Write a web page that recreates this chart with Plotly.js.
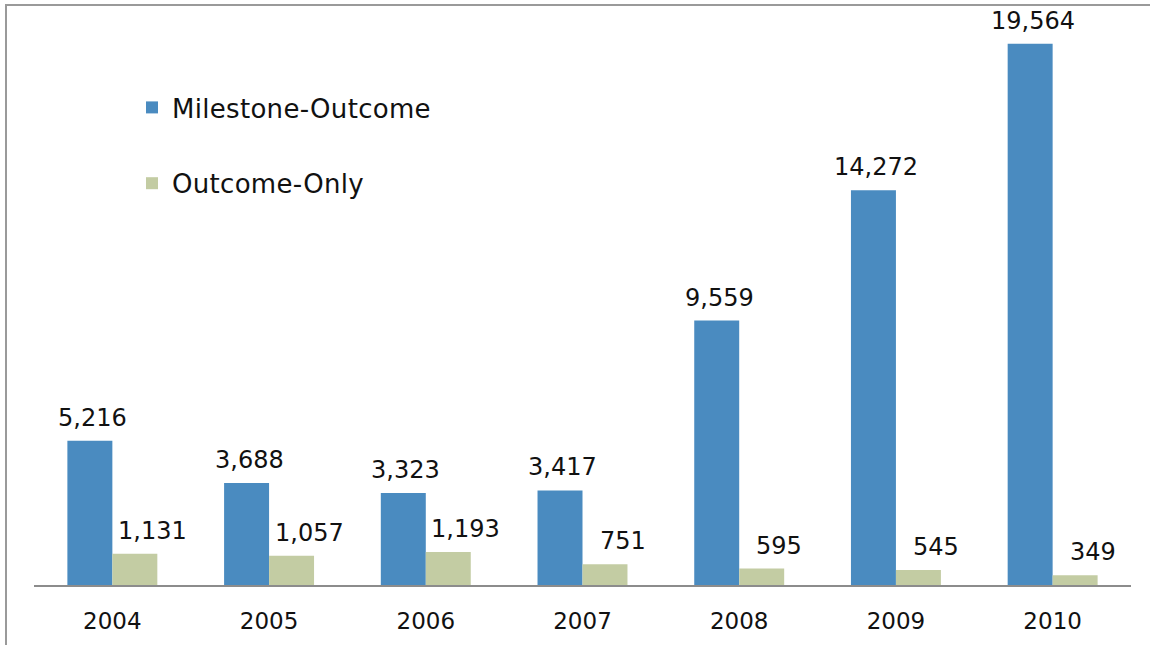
<!DOCTYPE html>
<html>
<head>
<meta charset="utf-8">
<script src="https://cdn.plot.ly/plotly-3.0.1.min.js"></script>
<style>
html,body{margin:0;padding:0;background:#fff;}
#chart{width:1150px;height:645px;}
.legendtext{letter-spacing:0.3px;}
</style>
</head>
<body>
<div id="chart"></div>
<script>
var years = ['2004', '2005', '2006', '2007', '2008', '2009', '2010'];
var milestoneOutcome = [5216, 3688, 3323, 3417, 9559, 14272, 19564];
var outcomeOnly = [1131, 1057, 1193, 751, 595, 545, 349];
var seriesNames = ['Milestone-Outcome', 'Outcome-Only'];

var FONT = 'DejaVu Sans, Verdana, sans-serif';
var fmt = function (v) { return v.toLocaleString('en-US'); };

var traces = [
  {
    type: 'bar', name: seriesNames[0], x: years, y: milestoneOutcome,
    marker: { color: '#4a8bc0' }, legendgroup: 'a', hoverinfo: 'x+y'
  },
  {
    type: 'bar', name: seriesNames[1], x: years, y: outcomeOnly,
    marker: { color: '#c3cca3' }, legendgroup: 'b', hoverinfo: 'x+y'
  }
];

var annotations = [];
years.forEach(function (yr, i) {
  annotations.push({
    x: i, y: milestoneOutcome[i], xref: 'x', yref: 'y', text: fmt(milestoneOutcome[i]),
    showarrow: false, xanchor: 'center', yanchor: 'bottom', xshift: -20, yshift: 7,
    font: { family: FONT, size: 24, color: '#111' }
  });
  annotations.push({
    x: i, y: outcomeOnly[i], xref: 'x', yref: 'y', text: fmt(outcomeOnly[i]),
    showarrow: false, xanchor: 'center', yanchor: 'bottom', xshift: 40, yshift: 7,
    font: { family: FONT, size: 24, color: '#111' }
  });
});

var L = 34, R = 19, T = 4, B = 60;
var pw = 1150 - L - R, ph = 645 - T - B;
var px2x = function (px) { return (px - L) / pw; };
var py2y = function (py) { return (645 - B - py) / ph; };

var layout = {
  width: 1150, height: 645,
  margin: { l: L, r: R, t: T, b: B },
  paper_bgcolor: '#ffffff', plot_bgcolor: '#ffffff',
  font: { family: FONT, size: 22, color: '#111' },
  barmode: 'group', bargap: 0.426, bargroupgap: 0,
  showlegend: true,
  legend: {
    x: px2x(132), y: py2y(84), xanchor: 'left', yanchor: 'top',
    font: { family: FONT, size: 26, color: '#111' },
    tracegroupgap: 39, bgcolor: 'rgba(0,0,0,0)'
  },
  xaxis: {
    type: 'category', autorange: false, range: [-0.5, years.length - 0.5],
    showgrid: false, zeroline: false,
    showline: true, linecolor: '#8c8c8c', linewidth: 2,
    ticks: '', ticklabelstandoff: 14,
    tickfont: { family: FONT, size: 23, color: '#111' }
  },
  yaxis: {
    autorange: false, range: [0, 21000], visible: false, showgrid: false, zeroline: false
  },
  annotations: annotations,
  shapes: [
    { type: 'line', xref: 'paper', yref: 'paper', x0: px2x(6), x1: px2x(6), y0: py2y(4), y1: py2y(650),
      line: { color: '#9a9a9a', width: 2 } },
    { type: 'line', xref: 'paper', yref: 'paper', x0: px2x(5), x1: px2x(1152), y0: py2y(5), y1: py2y(5),
      line: { color: '#9a9a9a', width: 2 } }
  ]
};

Plotly.newPlot('chart', traces, layout, { displayModeBar: false, staticPlot: true });
</script>
</body>
</html>
